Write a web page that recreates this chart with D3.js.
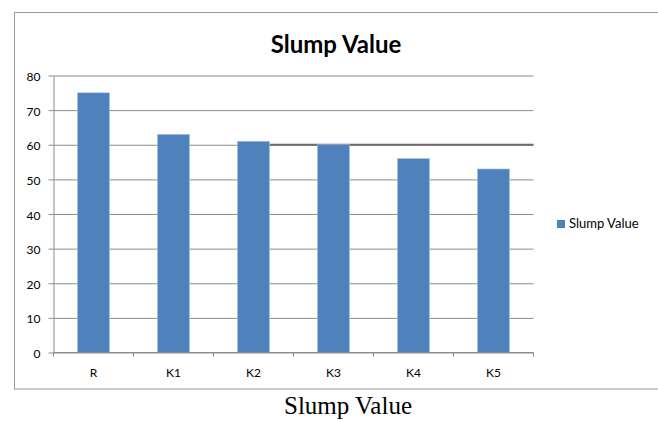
<!DOCTYPE html>
<html>
<head>
<meta charset="utf-8">
<script src="https://cdn.jsdelivr.net/npm/d3@7"></script>
<style>
  html, body { margin: 0; padding: 0; background: #fff; }
  svg { display: block; }
</style>
</head>
<body>
<svg id="chart" width="658" height="421"></svg>
<script>
// Slump test results per mix
const categories = ["R", "K1", "K2", "K3", "K4", "K5"];
const slumpValues = [75, 63, 61, 60, 56, 53];
const yTicks = [0, 10, 20, 30, 40, 50, 60, 70, 80];
const seriesName = "Slump Value";
const titleText = "Slump Value";
const captionText = "Slump Value";

const svg = d3.select("#chart");
const W = 658, H = 421;
const plot = { left: 53.5, right: 533.5, top: 75.5, bottom: 352.5 };
const barColor = "#4f81bd";
const gridColor = "#8c8c8c";
const labelFont = "Lato, 'Open Sans', sans-serif";

// outer chart frame (its right side runs past the page edge)
svg.append("rect")
  .attr("x", 14.5).attr("y", 12.5)
  .attr("width", W + 10).attr("height", 376.5)
  .attr("fill", "#fff")
  .attr("stroke", "#9a9a9a").attr("stroke-width", 1);

const x = d3.scaleBand()
  .domain(categories)
  .range([plot.left, plot.right])
  .paddingInner(0.6).paddingOuter(0.3);

const y = d3.scaleLinear()
  .domain([0, 80])
  .range([plot.bottom, plot.top]);

// horizontal gridlines with short ticks to the left
const yAxis = d3.axisLeft(y)
  .tickValues(yTicks)
  .tickSize(-(plot.right - plot.left))
  .tickSizeOuter(0)
  .tickPadding(13)
  .tickFormat(d3.format("d"));

const gy = svg.append("g")
  .attr("transform", `translate(${plot.left},0)`)
  .call(yAxis);
gy.select(".domain").attr("stroke", gridColor);
gy.selectAll(".tick line").attr("stroke", gridColor).attr("stroke-width", 1);
gy.selectAll(".tick")
  .append("line")
  .attr("x1", -5).attr("x2", 0)
  .attr("stroke", gridColor);
gy.selectAll(".tick text")
  .attr("font-family", labelFont)
  .attr("font-size", 12)
  .attr("fill", "#000")
  .attr("dy", "0.42em");

// emphasised segment of the 60 line, from K2 onward
svg.append("line")
  .attr("x1", x("K2") + x.bandwidth())
  .attr("x2", plot.right)
  .attr("y1", y(60)).attr("y2", y(60))
  .attr("stroke", "#6e6e6e").attr("stroke-width", 2);

// bars
svg.append("g")
  .selectAll("rect")
  .data(categories.map((c, i) => ({ c, v: slumpValues[i] })))
  .join("rect")
  .attr("x", d => x(d.c))
  .attr("y", d => y(d.v))
  .attr("width", x.bandwidth())
  .attr("height", d => y(0) - y(d.v))
  .attr("fill", barColor)
  .attr("stroke", "#a7c0de").attr("stroke-width", 0.6);

// category axis with ticks between groups
const boundaries = d3.range(categories.length + 1).map(i => plot.left + i * (plot.right - plot.left) / categories.length);
const gx = svg.append("g");
gx.append("line")
  .attr("x1", plot.left).attr("x2", plot.right)
  .attr("y1", plot.bottom).attr("y2", plot.bottom)
  .attr("stroke", gridColor);
gx.selectAll("line.tk")
  .data(boundaries)
  .join("line")
  .attr("class", "tk")
  .attr("x1", d => d).attr("x2", d => d)
  .attr("y1", plot.bottom).attr("y2", plot.bottom + 4)
  .attr("stroke", gridColor);
gx.selectAll("text")
  .data(categories)
  .join("text")
  .attr("x", d => x(d) + x.bandwidth() / 2)
  .attr("y", 377)
  .attr("text-anchor", "middle")
  .attr("font-family", labelFont)
  .attr("font-size", 12)
  .attr("fill", "#000")
  .text(d => d);

// title
svg.append("text")
  .attr("x", 336).attr("y", 53)
  .attr("text-anchor", "middle")
  .attr("font-family", labelFont)
  .attr("font-weight", "bold")
  .attr("font-size", 24)
  .attr("fill", "#000")
  .text(titleText);

// legend
svg.append("rect")
  .attr("x", 557).attr("y", 220)
  .attr("width", 8).attr("height", 8)
  .attr("fill", barColor);
svg.append("text")
  .attr("x", 569).attr("y", 228)
  .attr("font-family", labelFont)
  .attr("font-size", 13)
  .attr("fill", "#000")
  .text(seriesName);

// caption below the chart frame
svg.append("text")
  .attr("x", 348).attr("y", 414)
  .attr("text-anchor", "middle")
  .attr("font-family", "'Liberation Serif', 'Times New Roman', serif")
  .attr("font-size", 25)
  .attr("fill", "#000")
  .text(captionText);
</script>
</body>
</html>
